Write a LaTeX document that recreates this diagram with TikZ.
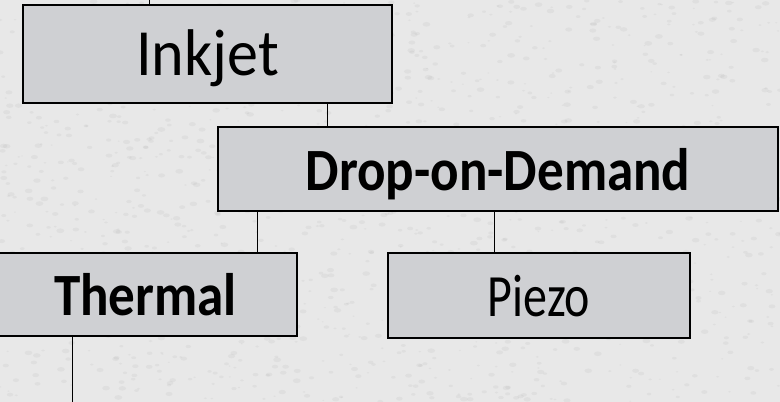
\documentclass[tikz,border=0pt]{standalone}
\usepackage{fontspec}
\setmainfont{Carlito}
\usepackage{graphicx}
\definecolor{bg}{RGB}{232,232,232}
\definecolor{speck}{RGB}{150,150,150}
\definecolor{boxfill}{RGB}{207,208,211}
\tikzset{
  box/.style={draw=black, line width=1.8pt, fill=boxfill, inner sep=0pt, outer sep=0pt,
    text height=42pt, text depth=0pt, align=center},
  link/.style={draw=black, line width=1pt},
}
\begin{document}
\begin{tikzpicture}[x=1pt,y=-1pt]
\useasboundingbox (0,0) rectangle (780,402);
\begin{scope}
\clip (0,0) rectangle (780,402);
\fill[bg] (0,0) rectangle (780,402);
\pgfmathsetseed{7}
\foreach \i in {1,...,1400}{
  \pgfmathsetmacro\px{rnd*780}
  \pgfmathsetmacro\py{rnd*402}
  \pgfmathsetmacro\pr{1+rnd*3}
  \fill[speck, opacity=0.10] (\px,\py) ellipse [x radius=\pr pt, y radius=0.6*\pr pt];
}
\node[box, minimum width=369pt, minimum height=98pt] (ink) at (207.5,54)
  {\fontsize{66}{66}\selectfont\scalebox{0.94}[1]{Inkjet}};
\node[box, minimum width=560pt, minimum height=84pt] (drop) at (498,169)
  {\fontsize{60}{60}\selectfont\bfseries\scalebox{0.885}[1]{Drop-on-Demand}};
\node[box, minimum width=303pt, minimum height=83pt] (therm) at (145.5,294.5)
  {\fontsize{60}{60}\selectfont\bfseries\scalebox{0.885}[1]{Thermal}};
\node[box, minimum width=302pt, minimum height=85pt] (piezo) at (539,295.5)
  {\fontsize{60}{60}\selectfont\scalebox{0.8}[1]{Piezo}};
\coordinate (topend) at (149,0);
\coordinate (botend) at (72,402);
\coordinate (xa) at (327,0);
\coordinate (xb) at (257,0);
\coordinate (xc) at (494,0);
\draw[link] (topend) -- (ink.north -| topend);
\draw[link] (ink.south -| xa) -- (drop.north -| xa);
\draw[link] (drop.south -| xb) -- (therm.north -| xb);
\draw[link] (drop.south -| xc) -- (piezo.north -| xc);
\draw[link] (therm.south -| botend) -- (botend);
\end{scope}
\end{tikzpicture}
\end{document}
